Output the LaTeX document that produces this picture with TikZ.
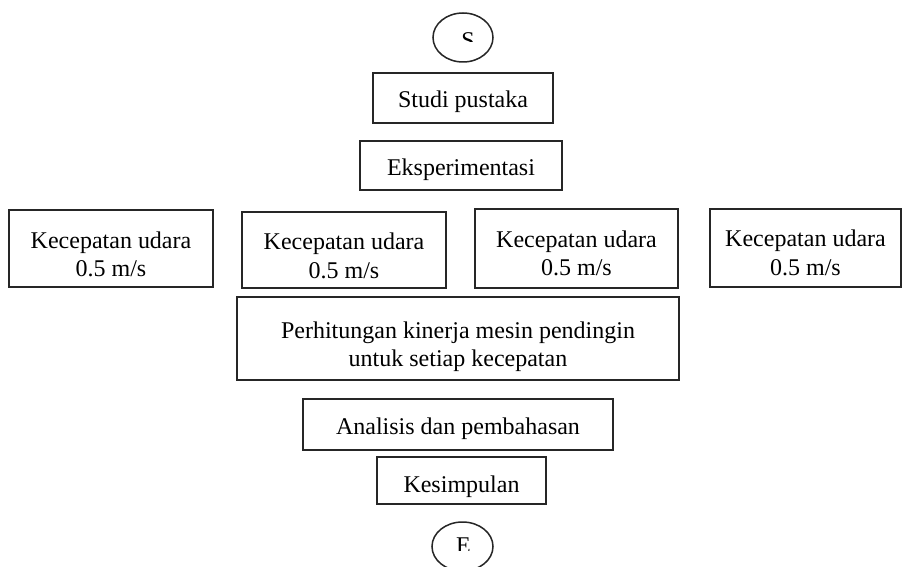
\documentclass[tikz,border=0pt]{standalone}
\usepackage{fontspec}
\setmainfont{Liberation Serif}
\usetikzlibrary{shapes.geometric}
\tikzset{
  boxnode/.style={draw=black!85, line width=1.5pt, rectangle, inner sep=0pt},
  txt/.style={inner sep=0pt, align=center, font=\fontsize{24}{28.5}\selectfont},
  termnode/.style={draw=black!85, line width=1.5pt, ellipse, inner sep=0pt},
  letter/.style={inner sep=0pt, anchor=north, font=\fontsize{24}{28}\selectfont}
}
\begin{document}
\begin{tikzpicture}[x=1pt,y=-1pt]
\useasboundingbox[fill=white] (0,0) rectangle (903,567);
% start terminal
\node[termnode, minimum width=60pt, minimum height=49pt] (s) at (463,37.5) {};
\begin{scope}
  \clip (440,20) rectangle (490,42);
  \node[letter] (stxt) at (468,32) {S};
\end{scope}
% process boxes
\node[boxnode, minimum width=180pt, minimum height=50pt] (studi) at (463,98) {};
\node[txt] (studit) at ([yshift=-4pt]studi.center) {Studi pustaka};
\node[boxnode, minimum width=202pt, minimum height=49pt] (eksp) at (461,165.5) {};
\node[txt] (ekspt) at ([yshift=-4pt]eksp.center) {Eksperimentasi};
\node[boxnode, minimum width=204pt, minimum height=77pt] (v1) at (111,248.5) {};
\node[txt] (v1t) at ([yshift=-6pt]v1.center) {Kecepatan udara\\0.5 m/s};
\node[boxnode, minimum width=204pt, minimum height=76pt] (v2) at (344,250) {};
\node[txt] (v2t) at ([yshift=-6pt]v2.center) {Kecepatan udara\\0.5 m/s};
\node[boxnode, minimum width=203pt, minimum height=79pt] (v3) at (576.5,248.5) {};
\node[txt] (v3t) at ([yshift=-5pt]v3.center) {Kecepatan udara\\0.5 m/s};
\node[boxnode, minimum width=191pt, minimum height=78pt] (v4) at (805.5,248) {};
\node[txt] (v4t) at ([yshift=-5pt]v4.center) {Kecepatan udara\\0.5 m/s};
\node[boxnode, minimum width=442pt, minimum height=83pt] (perh) at (458,338.5) {};
\node[txt] (perht) at ([yshift=-8pt]perh.center) {Perhitungan kinerja mesin pendingin\\untuk setiap kecepatan};
\node[boxnode, minimum width=310pt, minimum height=51pt] (anal) at (458,424.5) {};
\node[txt] (analt) at ([yshift=-4pt]anal.center) {Analisis dan pembahasan};
\node[boxnode, minimum width=169pt, minimum height=47pt] (kes) at (461.5,480.5) {};
\node[txt] (kest) at ([yshift=-6pt]kes.center) {Kesimpulan};
% end terminal
\node[termnode, minimum width=61pt, minimum height=49pt] (e) at (462.5,546.5) {};
\begin{scope}
  \clip (440,530) rectangle (490,550);
  \node[letter] (etxt) at (463.5,538) {E};
\end{scope}
\end{tikzpicture}
\end{document}
